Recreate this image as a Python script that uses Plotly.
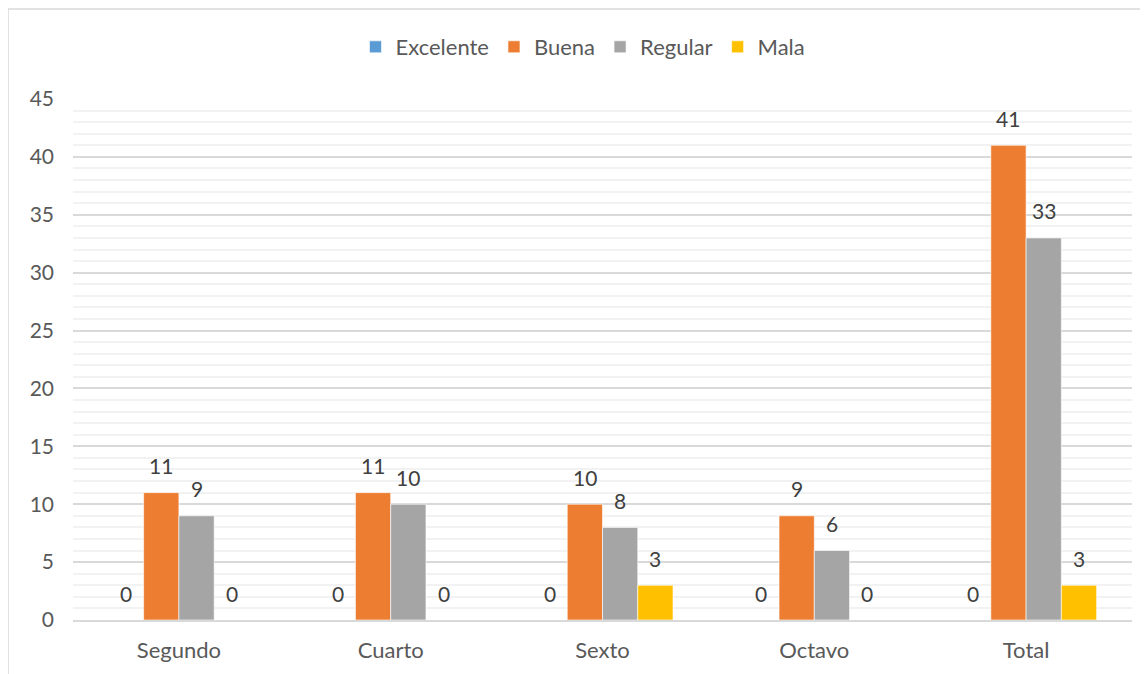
import plotly.graph_objects as go

categories = ["Segundo", "Cuarto", "Sexto", "Octavo", "Total"]
series_names = ["Excelente", "Buena", "Regular", "Mala"]
excelente = [0, 0, 0, 0, 0]
buena = [11, 11, 10, 9, 41]
regular = [9, 10, 8, 6, 33]
mala = [0, 0, 3, 0, 3]
y_ticks = [0, 5, 10, 15, 20, 25, 30, 35, 40, 45]

colors = ["#5B9BD5", "#ED7D31", "#A5A5A5", "#FFC000"]
values = [excelente, buena, regular, mala]

FONT = "Lato"
W, H = 1148, 674
OFF = 8  # page body margin
ml, mr, mt, mb = 73 - OFF, 16 + OFF, 99 - OFF, 54 + OFF
bargap = 0.334

fig = go.Figure()
for name, vals, col in zip(series_names, values, colors):
    fig.add_trace(go.Bar(
        name=name, x=categories, y=vals,
        marker=dict(color=col, line=dict(color="rgba(255,255,255,0.6)", width=1)),
    ))

# data labels
plot_w = W - ml - mr
cat_w = plot_w / len(categories)
bar_w = cat_w * (1 - bargap) / len(series_names)
for i, vals in enumerate(values):
    off = (i - (len(series_names) - 1) / 2) * bar_w
    for c, v in zip(categories, vals):
        fig.add_annotation(
            x=c, y=v, text=str(v), showarrow=False,
            xshift=off, yshift=27, yanchor="middle", xanchor="center",
            font=dict(family=FONT, size=21, color="#404040"),
        )

# outer chart border
plot_h = H - mt - mb
fig.add_shape(
    type="rect", xref="paper", yref="paper",
    x0=(8 - 73) / plot_w, x1=1.1, y0=-0.3, y1=(620 - 9) / plot_h,
    line=dict(color="#D9D9D9", width=1.5), fillcolor="rgba(0,0,0,0)", layer="below",
)

fig.update_layout(
    width=W, height=H,
    margin=dict(l=ml, r=mr, t=mt, b=mb),
    paper_bgcolor="white", plot_bgcolor="white",
    barmode="group", bargap=bargap, bargroupgap=0,
    font=dict(family=FONT, size=21, color="#595959"),
    legend=dict(
        orientation="h", x=(583 - 73) / plot_w, xanchor="center",
        y=(620 - 47) / plot_h, yanchor="middle",
        font=dict(family=FONT, size=22, color="#595959"),
        itemwidth=30, traceorder="normal",
    ),
    showlegend=True,
)
fig.update_xaxes(
    showgrid=False, showline=True, linecolor="#D9D9D9", linewidth=1.5,
    ticks="", tickfont=dict(family=FONT, size=22, color="#595959"),
    ticklabelstandoff=10,
)
fig.update_yaxes(
    range=[0, 45], tickvals=y_ticks, showgrid=True, gridcolor="#D9D9D9", gridwidth=1.5,
    zeroline=False, showline=False, ticks="",
    tickfont=dict(family=FONT, size=21, color="#595959"),
    ticklabelstandoff=18,
    minor=dict(dtick=1, showgrid=True, gridcolor="#F2F2F2", gridwidth=1.5),
)

fig.write_html("out.html")
